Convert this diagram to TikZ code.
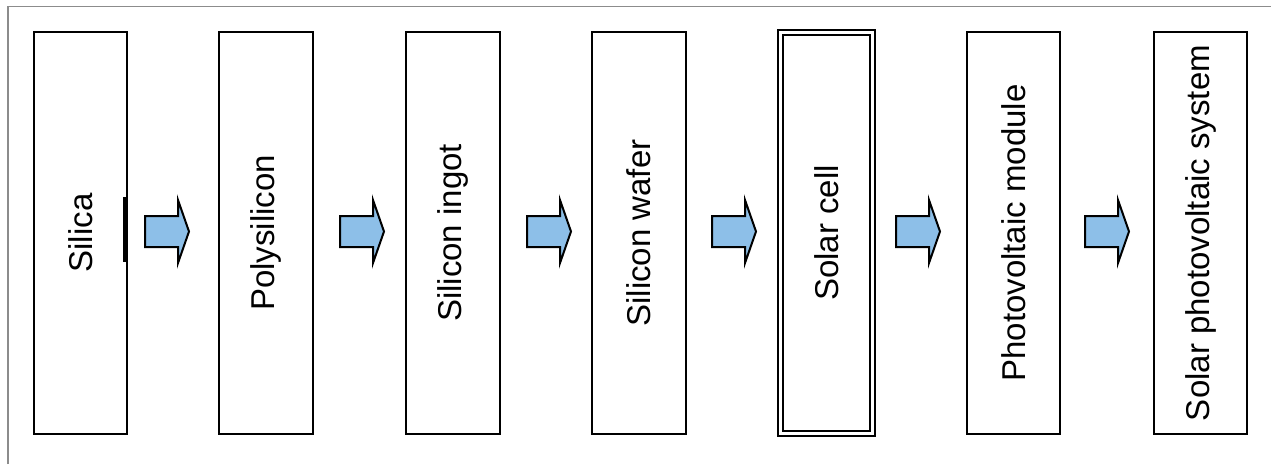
\documentclass[tikz,border=0pt]{standalone}
\usepackage{fontspec}
\setmainfont{Liberation Sans}
\definecolor{arrowblue}{RGB}{141,191,232}
\definecolor{framegray}{RGB}{140,140,140}
\tikzset{
  x=1pt, y=-1pt,
  stagebox/.style={draw=black, line width=2pt, fill=white, rotate=90,
    minimum width=402pt, minimum height=93.5pt, inner sep=0pt,
    font=\fontsize{33}{39}\selectfont},
  keybox/.style={stagebox, double=white, double distance=3pt,
    minimum width=401pt, minimum height=92pt},
  flowarrow/.style={draw=black, line width=2pt, fill=arrowblue, line join=miter},
  pics/blockarrow/.style={code={
    \draw[flowarrow] (0,-15.5) -- (33,-15.5) -- (33,-31.5) -- (44,0)
      -- (33,31.5) -- (33,15.5) -- (0,15.5) -- cycle;
  }}
}
\begin{document}
\begin{tikzpicture}
\useasboundingbox (0,0) rectangle (1271,464);
% frame along the top and left edges
\draw[framegray, line width=1.2pt] (8,464) -- (8,6.5) -- (1271,6.5);

% process stages
\node[stagebox] (silica)  at (80.25,233) {Silica};
\node[stagebox] (poly)    at (266,233)   {Polysilicon};
\node[stagebox] (ingot)   at (453,233)   {Silicon ingot};
\node[stagebox] (wafer)   at (639,233)   {Silicon wafer};
\node[keybox]   (cell)    at (826.5,233) {Solar cell};
\node[stagebox] (module)  at (1013.5,233){Photovoltaic module};
\node[stagebox] (system)  at (1200.5,233){Solar photovoltaic system};

% short heavy stroke on the right side of the first stage
\draw[line width=2.2pt] (124.5,197) -- (124.5,262);

% block arrows between the stages
\pic at (145,231.5)  {blockarrow};
\pic at (340,231.5)  {blockarrow};
\pic at (527,231.5)  {blockarrow};
\pic at (712,231.5)  {blockarrow};
\pic at (896,231.5)  {blockarrow};
\pic at (1085,231.5) {blockarrow};
\end{tikzpicture}
\end{document}
